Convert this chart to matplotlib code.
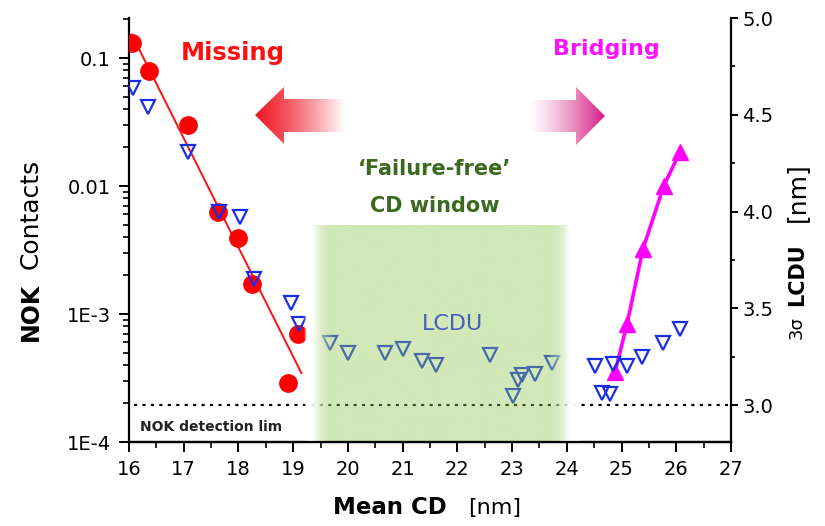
import numpy as np
import matplotlib as mpl
import matplotlib.pyplot as plt
from matplotlib.patches import Polygon
from matplotlib.ticker import LogLocator, MultipleLocator, NullFormatter

mpl.use('Agg')

# NOK contacts, missing side (left log axis)
missing_cd = [16.05, 16.37, 17.07, 17.63, 18.00, 18.24, 18.91, 19.08]
missing_nok = [0.130, 0.0796, 0.030, 0.0063, 0.00394, 0.00171, 0.000287, 0.000698]

# NOK contacts, bridging side (left log axis)
bridging_cd = [24.88, 25.10, 25.39, 25.77, 26.07]
bridging_nok = [0.00035, 0.000835, 0.0032, 0.0100, 0.0185]

# 3-sigma LCDU (right axis, nm)
lcdu_cd = [16.08, 16.34, 17.08, 17.65, 18.03, 18.29, 18.96, 19.11, 19.67, 20.01,
           20.68, 21.00, 21.35, 21.61, 22.59, 23.01, 23.10, 23.18, 23.42, 23.73,
           24.52, 24.64, 24.79, 24.85, 25.10, 25.37, 25.76, 26.07]
lcdu_nm = [4.64, 4.54, 4.31, 4.00, 3.97, 3.65, 3.53, 3.42, 3.32, 3.27,
           3.27, 3.29, 3.23, 3.21, 3.26, 3.05, 3.13, 3.155, 3.16, 3.22,
           3.20, 3.065, 3.06, 3.215, 3.205, 3.25, 3.32, 3.395]

detection_limit = 3.0
window_cd = (19.2, 24.25)

left_ticks = [1e-4, 1e-3, 1e-2, 1e-1]
left_ticklabels = ['1E-4', '1E-3', '0.01', '0.1']
right_ticks = [3.0, 3.5, 4.0, 4.5, 5.0]

W, H = 825, 526
fig = plt.figure(figsize=(W / 100, H / 100), dpi=100)
ax = fig.add_axes([129 / W, 1 - 442 / H, (731 - 129) / W, (442 - 18) / H])
ax2 = ax.twinx()

# --- left axis: NOK contacts
ax.plot(missing_cd, missing_nok, 'o', color='#ff0000', ms=12.5, mec='#ff0000', zorder=3)
coef = np.polyfit(missing_cd, np.log10(missing_nok), 1)
xf = np.linspace(min(missing_cd), 19.15, 50)
ax.plot(xf, 10 ** np.polyval(coef, xf), '-', color='#ff1010', lw=1.4, zorder=2)
ax.plot(bridging_cd, bridging_nok, '-^', color='#ff00ff', lw=2.6, ms=11, zorder=3)

ax.set_yscale('log')
ax.set_ylim(1e-4, 0.2054)
ax.set_xlim(16, 27)
ax.set_yticks(left_ticks)
ax.set_yticklabels(left_ticklabels)
ax.yaxis.set_minor_locator(LogLocator(base=10, subs=np.arange(2, 10)))
ax.yaxis.set_minor_formatter(NullFormatter())
ax.set_xticks(range(16, 28))
ax.xaxis.set_minor_locator(MultipleLocator(0.5))
ax.tick_params(which='major', direction='out', length=7, width=1.4, labelsize=14, pad=6)
ax.tick_params(which='minor', direction='out', length=4, width=1.2)
ax.spines['top'].set_visible(False)
ax.spines['right'].set_visible(False)
for s in ('left', 'bottom'):
    ax.spines[s].set_linewidth(1.6)

# --- right axis: LCDU
ax2.plot(lcdu_cd, lcdu_nm, 'v', ms=10, mfc='none', mec='#1a2ee6', mew=1.6, zorder=3)
ax2.plot([16.1, 26.95], [detection_limit, detection_limit], color='black',
         lw=1.6, dashes=(1.4, 2.4), zorder=2)

# failure-free window: soft green band with white faded edges
xs = np.linspace(window_cd[0], window_cd[1], 600)
green = np.array([142, 198, 80]) / 255
rgba = np.zeros((1, xs.size, 4))
for i, x in enumerate(xs):
    if x < 19.35:
        t, a = 0.0, 0.95 * min(1, (x - window_cd[0]) / 0.04)
    elif x < 19.75:
        t = (x - 19.35) / 0.40
        a = 0.95 - 0.55 * t
    elif x < 23.65:
        t, a = 1.0, 0.40
    elif x < 24.05:
        t = 1 - (x - 23.65) / 0.40
        a = 0.95 - 0.55 * t
    else:
        t, a = 0.0, 0.95 * min(1, (window_cd[1] - x) / 0.04)
    rgba[0, i, :3] = (1 - t) * np.ones(3) + t * green
    rgba[0, i, 3] = a
ax2.imshow(rgba, extent=(window_cd[0], window_cd[1], 2.81, 3.928),
           aspect='auto', interpolation='bilinear', zorder=4)

ax2.set_xlim(16, 27)
ax2.set_ylim(2.81, 5.0)
ax2.set_yticks(right_ticks)
ax2.set_yticklabels(['%.1f' % v for v in right_ticks])
ax2.yaxis.set_minor_locator(MultipleLocator(0.25))
ax2.tick_params(which='major', direction='out', length=5, width=1.4, labelsize=14, pad=3)
ax2.tick_params(which='minor', direction='out', length=3, width=1.2)
ax2.spines['top'].set_visible(False)
ax2.spines['left'].set_visible(False)
# redraw the x axis line above the green window
ax2.spines['bottom'].set_linewidth(1.6)
ax2.spines['bottom'].set_zorder(6)
ax2.spines['right'].set_linewidth(1.6)

ax2.text(17.90, 4.82, 'Missing', color='#ff1010', fontsize=17.5,
         fontweight='bold', ha='center', va='center')
ax2.text(24.72, 4.84, 'Bridging', color='#ff10ff', fontsize=16,
         fontweight='bold', ha='center', va='center')
ax2.text(21.59, 4.22, '\u2018Failure-free\u2019', color='#3b6a1e', fontsize=15,
         fontweight='bold', ha='center', va='center')
ax2.text(21.59, 4.03, 'CD window', color='#3b6a1e', fontsize=15,
         fontweight='bold', ha='center', va='center')
ax2.text(21.92, 3.42, 'LCDU', color='#4a60b8', fontsize=16,
         ha='center', va='center', zorder=5)
ax2.text(16.2, 2.887, 'NOK detection lim', color='#222222', fontsize=10,
         fontweight='bold', ha='left', va='center')

# --- overlay in pixel coordinates for arrows and axis titles
over = fig.add_axes([0, 0, 1, 1])
over.axis('off')


def gradient_arrow(verts, x0, x1, y0, y1, color, fade_right):
    n = 200
    ramp = np.linspace(0, 1, n) ** 1.3
    img = np.zeros((1, n, 4))
    img[0, :, :3] = mpl.colors.to_rgb(color)
    img[0, :, 3] = 1 - ramp if fade_right else ramp
    patch = Polygon(verts, closed=True, fc='none', ec='none')
    over.add_patch(patch)
    im = over.imshow(img, extent=(x0, x1, y1, y0), aspect='auto',
                     interpolation='bilinear')
    im.set_clip_path(patch)


gradient_arrow([(255, 115), (284, 87), (284, 99), (345, 99), (345, 132),
                (284, 132), (284, 144)], 255, 345, 87, 144, '#f01a28', True)
gradient_arrow([(605, 116), (576, 87), (576, 100), (528, 100), (528, 132),
                (576, 132), (576, 145)], 528, 605, 87, 145, '#d41c86', False)
over.set_xlim(0, W)
over.set_ylim(H, 0)

over.text(390, 508, 'Mean CD', fontsize=16.5, fontweight='bold', ha='center', va='center')
over.text(495, 508, '[nm]', fontsize=16, ha='center', va='center')
over.text(31, 312, 'NOK', fontsize=17, fontweight='bold', rotation=90,
          ha='center', va='center')
over.text(31, 214, 'Contacts', fontsize=18, rotation=90, ha='center', va='center')
over.text(797, 328, '3\u03c3', fontsize=13, rotation=90, ha='center', va='center')
over.text(797, 275, 'LCDU', fontsize=15, fontweight='bold', rotation=90,
          ha='center', va='center')
over.text(797, 192, '[nm]', fontsize=18, rotation=90, ha='center', va='center')

fig.savefig('out.png', dpi=100)
plt.close(fig)
